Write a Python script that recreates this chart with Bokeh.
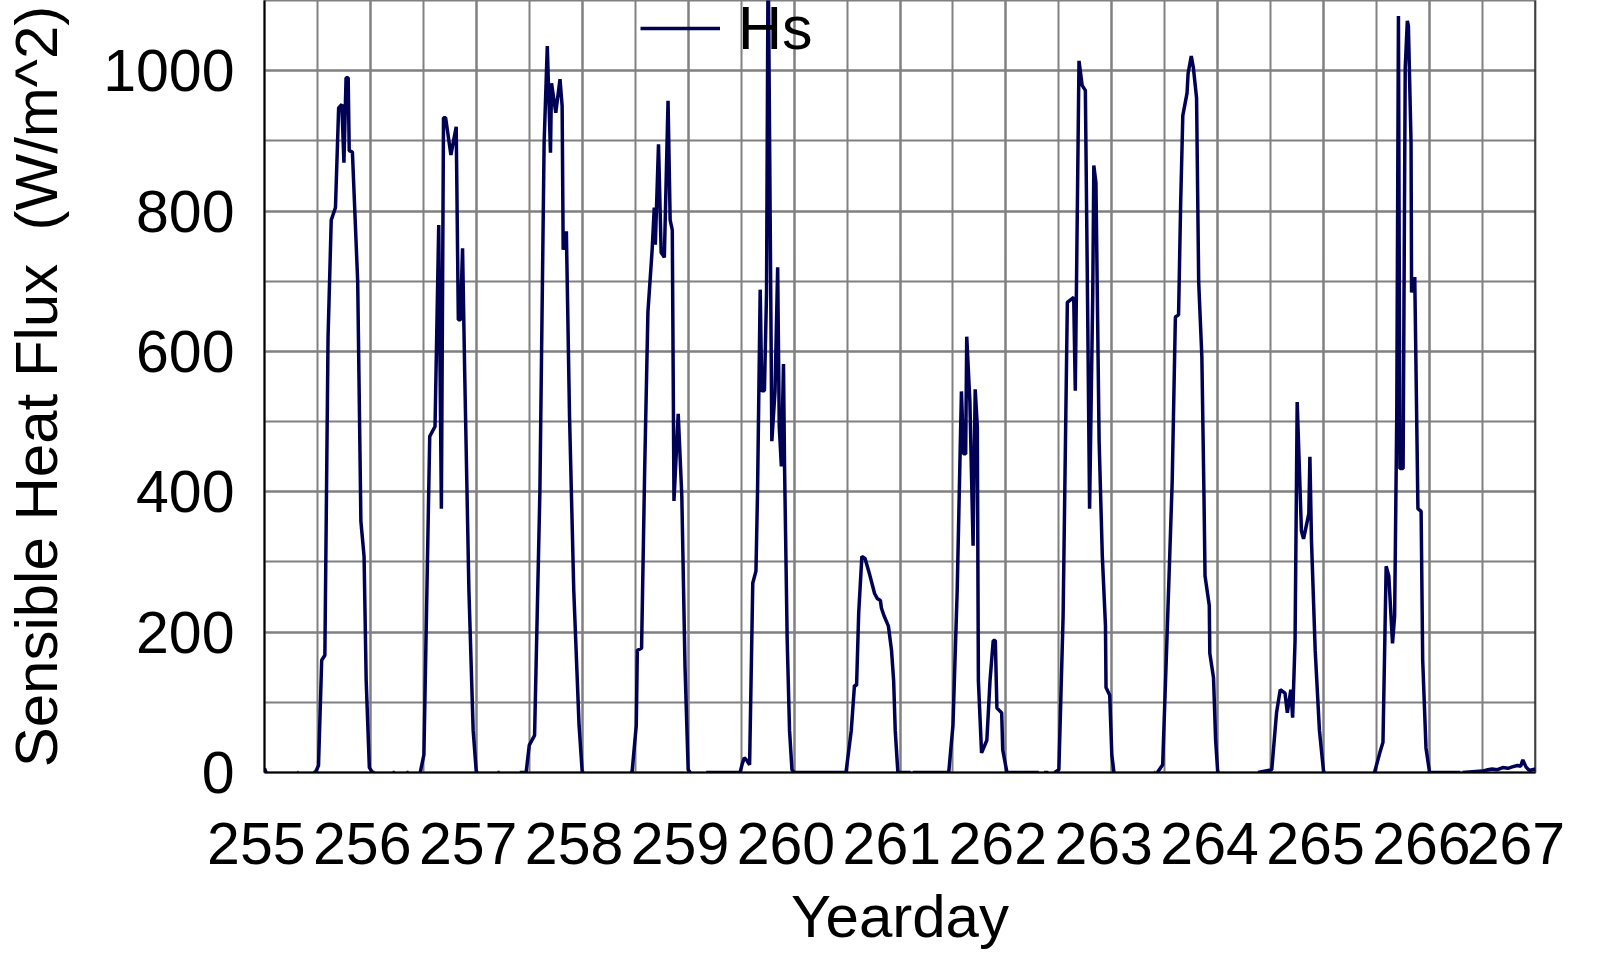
import math
from bokeh.plotting import figure
from bokeh.models import (ColumnDataSource, Range1d, SingleIntervalTicker, Legend,
                          LegendItem, Span)
from bokeh.embed import file_html
from bokeh.resources import INLINE

NAN = float("nan")

# Yearday and sensible heat flux Hs (W/m^2); NaN = missing data (gap in line)
yearday = [
    255.00, 255.015, NAN, 255.31, 255.32, NAN,
    255.46, 255.48, 255.51, 255.54, 255.57, 255.60, 255.63, 255.67, 255.70, 255.73,
    255.75, 255.77, 255.79, 255.80, 255.83, 255.88, 255.91, 255.94, 255.96, 255.99,
    256.02, 256.04, NAN, 256.21, 256.23, NAN, 256.34, 256.36, NAN,
    256.47, 256.505, 256.56, 256.61, 256.645, 256.67, 256.69, 256.71, 256.76, 256.81,
    256.83, 256.85, 256.87, 256.89, 256.93, 256.97, 257.00, 257.02, NAN,
    257.20, 257.22, NAN,
    257.41, 257.47, 257.50, 257.55, 257.60, 257.64, 257.67, 257.70, 257.71, 257.75,
    257.79, 257.81, 257.82, 257.85, 257.88, 257.92, 257.97, 258.00, 258.02, NAN,
    258.45, 258.47, 258.51, 258.52, 258.56, 258.59, 258.62, 258.66, 258.68, 258.69,
    258.72, 258.745, 258.775, 258.81, 258.83, 258.85, 258.866, 258.906, 258.94, 258.97,
    259.00, 259.02, NAN,
    259.17, 259.49, 259.51, 259.53, 259.55, 259.58, 259.61, 259.64, 259.655, 259.68,
    259.695, 259.72, 259.74, 259.755, 259.79, 259.82, 259.845, 259.86, 259.88, 259.90,
    259.91, 259.935, 259.957, 259.98, 260.00,
    260.49, 260.54, 260.57, 260.59, 260.61, 260.64, 260.67, 260.71, 260.76, 260.785,
    260.815, 260.825, 260.85, 260.89, 260.92, 260.94, 260.955, 260.98, 261.10, NAN,
    261.12, 261.46, 261.50, 261.54, 261.58, 261.60, 261.62, 261.63, 261.66, 261.69,
    261.71, 261.73, 261.74, 261.77, 261.82, 261.85, 261.88, 261.90, 261.915, 261.96,
    261.97, 262.01, 262.31, NAN, 262.36, 262.40, NAN,
    262.46, 262.50, 262.54, 262.58, 262.64, 262.655, 262.69, 262.72, 262.75, 262.77,
    262.79, 262.82, 262.83, 262.85, 262.88, 262.91, 262.94, 262.945, 262.98, 263.00,
    263.02, NAN, 263.40, 263.41, NAN,
    263.43, 263.48, 263.52, 263.57, 263.60, 263.63, 263.65, 263.67, 263.71, 263.72,
    263.75, 263.77, 263.80, 263.82, 263.85, 263.87, 263.88, 263.92, 263.925, 263.96,
    263.98, 264.00, 264.02, NAN,
    264.38, 264.51, 264.555, 264.59, 264.635, 264.657, 264.69, 264.707, 264.73, 264.75,
    264.79, 264.81, 264.86, 264.87, 264.885, 264.92, 264.96, 265.00, 265.02, NAN,
    265.48, 265.53, 265.56, 265.59, 265.615, 265.65, 265.67, 265.69, 265.706, 265.72,
    265.75, 265.77, 265.79, 265.80, 265.825, 265.83, 265.86, 265.89, 265.92, 265.935,
    265.966, 266.00, 266.29, NAN,
    266.31, 266.50, 266.55, 266.59, 266.64, 266.69, 266.74, 266.78, 266.83, 266.86,
    266.88, 266.91, 266.94, 266.97, 267.00,
]

hs = [
    6, 0, NAN, 0, 0, NAN,
    0, 0, 10, 160, 167, 620, 787, 805, 947, 952,
    869, 990, 990, 886, 884, 699, 358, 308, 131, 7,
    0, 0, NAN, 0, 0, NAN, 0, 0, NAN,
    0, 25, 479, 493, 780, 376, 933, 933, 880, 920,
    645, 645, 747, 571, 259, 60, 0, 0, NAN,
    0, 0, NAN,
    0, 0, 39, 53, 400, 897, 1035, 883, 982, 940,
    988, 950, 745, 771, 507, 259, 67, 0, 0, NAN,
    0, 0, 67, 174, 177, 436, 656, 745, 805, 752,
    895, 741, 734, 957, 787, 773, 387, 511, 394, 152,
    4, 0, NAN,
    0, 0, 12, 21, 18, 11, 270, 287, 400, 688,
    544, 544, 684, 1180, 472, 543, 720, 493, 436, 582,
    436, 188, 60, 4, 0,
    0, 60, 124, 124, 227, 308, 305, 284, 255, 248,
    245, 234, 223, 209, 174, 131, 60, 0, 0, NAN,
    0, 0, 67, 259, 543, 454, 454, 621, 528, 323,
    546, 493, 131, 28, 46, 131, 188, 188, 92, 85,
    32, 0, 0, NAN, 0, 0, NAN,
    0, 4, 223, 670, 677, 544, 1014, 979, 972, 684,
    376, 684, 865, 840, 472, 309, 209, 121, 110, 25,
    0, NAN, 0, 0, NAN,
    0, 11, 188, 415, 649, 652, 812, 936, 968, 996,
    1021, 1004, 961, 699, 592, 394, 280, 238, 170, 135,
    46, 0, 0, NAN,
    0, 4, 85, 118, 113, 85, 118, 78, 188, 528,
    344, 333, 369, 450, 330, 174, 60, 0, 0, NAN,
    0, 28, 43, 294, 280, 184, 223, 507, 1078, 433,
    433, 1004, 1071, 1064, 897, 684, 706, 376, 372, 160,
    35, 0, 0, NAN,
    0, 2, 4, 5, 4, 7, 6, 8, 10, 9,
    18, 8, 3, 4, 5,
]

x_ticks = [255, 256, 257, 258, 259, 260, 261, 262, 263, 264, 265, 266, 267]
series_label = "Hs"
x_title = "Yearday"
y_title = "Sensible Heat Flux \u00a0(W/m^2)"

FONT = "Liberation Sans"
LINE_COLOR = "#000055"
GRID_COLOR = "#808080"

src = ColumnDataSource(data=dict(t=yearday, hs=hs))

p = figure(width=1581, height=953, output_backend="svg", toolbar_location=None,
           x_range=Range1d(255, 267), y_range=Range1d(0, 1100),
           min_border_left=258, min_border_right=46, min_border_top=0,
           min_border_bottom=181, background_fill_color="white")

r = p.line("t", "hs", source=src, line_color=LINE_COLOR, line_width=3.5)

p.xaxis.ticker = SingleIntervalTicker(interval=1, num_minor_ticks=2)
p.yaxis.ticker = SingleIntervalTicker(interval=200, num_minor_ticks=2)
# the original's day labels sit a little left of their grid lines
p.xaxis.major_label_overrides = {t: f"{t}\u00a0" for t in x_ticks}

for g in (p.xgrid[0], p.ygrid[0]):
    g.grid_line_color = GRID_COLOR
    g.grid_line_width = 2
    g.minor_grid_line_color = GRID_COLOR
    g.minor_grid_line_width = 2

for ax in (p.xaxis[0], p.yaxis[0]):
    ax.axis_line_color = "black"
    ax.axis_line_width = 2
    ax.major_tick_line_color = None
    ax.minor_tick_line_color = None
    ax.major_tick_out = 0
    ax.major_tick_in = 0
    ax.minor_tick_out = 0
    ax.minor_tick_in = 0
    ax.major_label_text_font = FONT
    ax.major_label_text_font_size = "59px"
    ax.major_label_text_color = "black"
    ax.axis_label_text_font = FONT
    ax.axis_label_text_font_style = "normal"
    ax.axis_label_text_color = "black"

p.xaxis.axis_label = x_title
p.yaxis.axis_label = y_title
p.xaxis.axis_label_text_font_size = "60px"
p.yaxis.axis_label_text_font_size = "60px"
p.xaxis.major_label_standoff = 38
p.xaxis.axis_label_standoff = 3
p.yaxis.major_label_standoff = 30
p.yaxis.axis_label_standoff = 30

p.outline_line_color = GRID_COLOR
p.outline_line_width = 2
p.add_layout(Span(location=267, dimension="height", line_color="black", line_width=2))

legend = Legend(items=[LegendItem(label=series_label, renderers=[r])],
                location=(376, 704), glyph_width=80, glyph_height=80, label_height=80,
                label_standoff=18, padding=0, margin=0, border_line_alpha=0,
                background_fill_alpha=0, label_text_font=FONT,
                label_text_font_size="61px", label_text_color="black")
p.add_layout(legend)

open("out.html", "w").write(file_html(p, INLINE))
